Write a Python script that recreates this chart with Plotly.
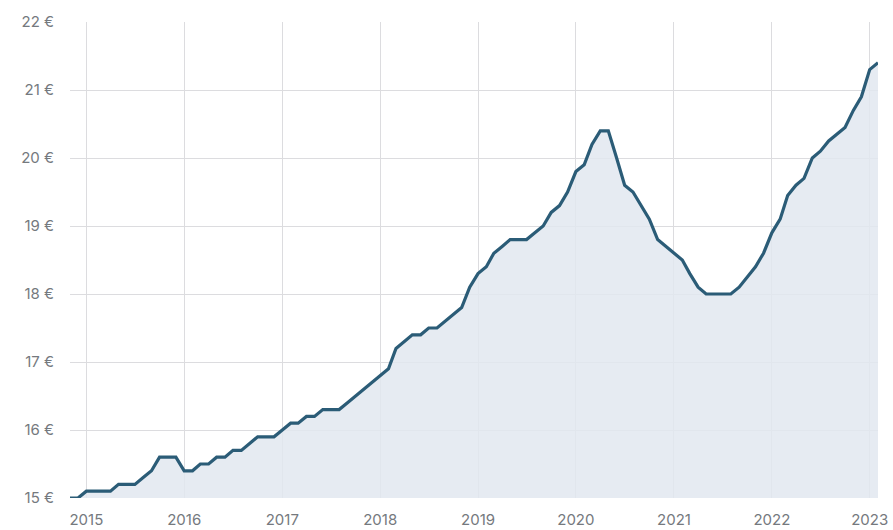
import plotly.graph_objects as go
import pandas as pd

start_month = "2014-11-01"
prices = [
    15.0, 15.0,
    15.1, 15.1, 15.1, 15.1, 15.2, 15.2, 15.2, 15.3, 15.4, 15.6, 15.6, 15.6,
    15.4, 15.4, 15.5, 15.5, 15.6, 15.6, 15.7, 15.7, 15.8, 15.9, 15.9, 15.9,
    16.0, 16.1, 16.1, 16.2, 16.2, 16.3, 16.3, 16.3, 16.4, 16.5, 16.6, 16.7,
    16.8, 16.9, 17.2, 17.3, 17.4, 17.4, 17.5, 17.5, 17.6, 17.7, 17.8, 18.1,
    18.3, 18.4, 18.6, 18.7, 18.8, 18.8, 18.8, 18.9, 19.0, 19.2, 19.3, 19.5,
    19.8, 19.9, 20.2, 20.4, 20.4, 20.0, 19.6, 19.5, 19.3, 19.1, 18.8, 18.7,
    18.6, 18.5, 18.3, 18.1, 18.0, 18.0, 18.0, 18.0, 18.1, 18.25, 18.4, 18.6,
    18.9, 19.1, 19.45, 19.6, 19.7, 20.0, 20.1, 20.25, 20.35, 20.45, 20.7, 20.9,
    21.3, 21.4,
]
dates = pd.date_range(start_month, periods=len(prices), freq="MS")

y_ticks = [15, 16, 17, 18, 19, 20, 21, 22]
y_labels = [f"{v} €" for v in y_ticks]
x_years = [2015, 2016, 2017, 2018, 2019, 2020, 2021, 2022, 2023]
x_ticks = [pd.Timestamp(f"{y}-01-01") for y in x_years]
x_labels = [str(y) for y in x_years]

fig = go.Figure()
fig.add_trace(go.Scatter(
    x=dates, y=prices, mode="lines",
    line=dict(color="#2b5c77", width=3.2),
    fill="tozeroy", fillcolor="rgba(226,232,240,0.85)",
    hoverinfo="skip",
))

fig.update_layout(
    width=893, height=530,
    margin=dict(l=70, r=15, t=22, b=32),
    paper_bgcolor="white", plot_bgcolor="white",
    showlegend=False,
    font=dict(family="Inter, Roboto, sans-serif", size=15, color="#75797e"),
)
fig.update_xaxes(
    range=[dates[0], dates[-1]],
    tickvals=x_ticks, ticktext=x_labels,
    showgrid=True, gridcolor="#dcdcdf", gridwidth=1,
    zeroline=False, showline=False, ticks="",
    ticklabelstandoff=11, automargin=False,
)
fig.update_yaxes(
    range=[15, 22],
    tickvals=y_ticks, ticktext=y_labels,
    showgrid=True, gridcolor="#dcdcdf", gridwidth=1,
    zeroline=False, showline=False, ticks="",
    ticklabelstandoff=15, automargin=False,
)

fig.write_html("out.html")
